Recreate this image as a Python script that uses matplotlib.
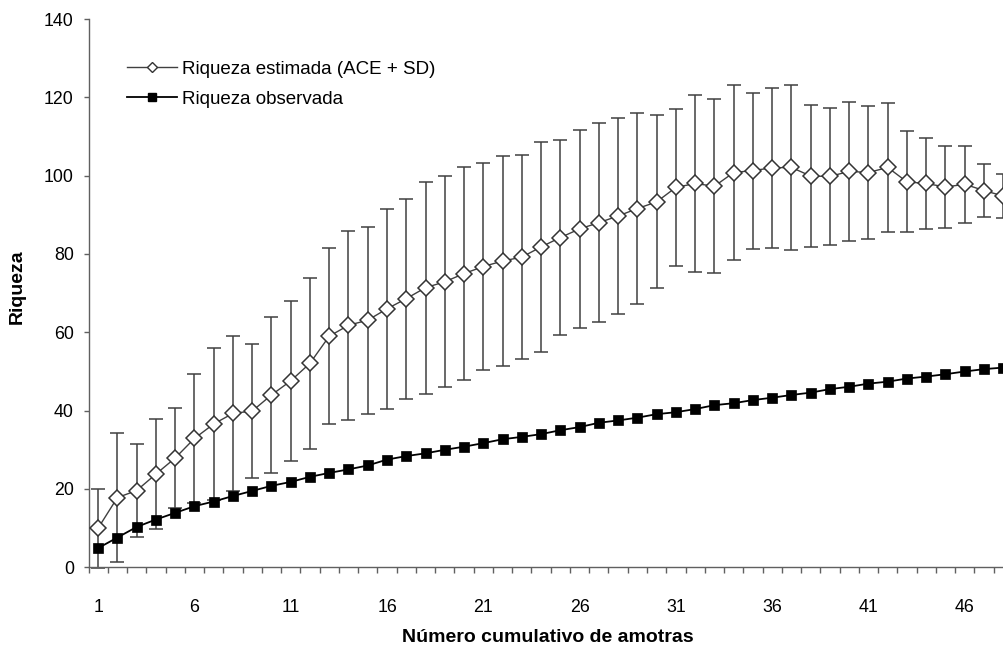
import matplotlib
matplotlib.use("Agg")
import matplotlib.pyplot as plt
from matplotlib.lines import Line2D
import numpy as np

plt.rcParams['font.family'] = ['Liberation Sans', 'DejaVu Sans']

samples = list(range(1, 49))
ace_mean = [10.0, 17.8, 19.6, 23.8, 27.9, 32.9, 36.6, 39.3, 39.9, 44.0, 47.6, 52.1,
            59.0, 61.8, 63.1, 66.0, 68.6, 71.4, 72.9, 75.0, 76.8, 78.2, 79.2, 81.8,
            84.2, 86.4, 88.0, 89.7, 91.6, 93.3, 97.0, 98.0, 97.3, 100.8, 101.3, 102.0,
            102.1, 99.9, 99.8, 101.1, 100.8, 102.1, 98.4, 98.0, 97.1, 97.8, 96.2, 94.8]
ace_sd = [10.1, 16.4, 11.9, 14.0, 12.8, 16.5, 19.5, 19.7, 17.1, 19.8, 20.4, 21.8,
          22.5, 24.1, 23.9, 25.5, 25.5, 27.1, 26.9, 27.1, 26.4, 26.9, 26.1, 26.8,
          24.8, 25.2, 25.4, 25.0, 24.4, 22.1, 20.1, 22.5, 22.2, 22.4, 19.9, 20.4,
          21.1, 18.1, 17.4, 17.7, 17.0, 16.5, 12.9, 11.5, 10.5, 9.8, 6.8, 5.5]
observed = [4.9, 7.6, 10.3, 12.2, 13.9, 15.6, 16.8, 18.2, 19.5, 20.8, 21.8, 23.1,
            24.1, 25.0, 26.0, 27.5, 28.4, 29.1, 30.0, 30.8, 31.7, 32.7, 33.3, 34.0,
            35.0, 35.8, 36.9, 37.5, 38.2, 39.1, 39.6, 40.4, 41.4, 41.9, 42.7, 43.3,
            44.0, 44.6, 45.5, 46.1, 46.9, 47.4, 48.2, 48.7, 49.3, 50.0, 50.6, 51.0]
xtick_pos = [1, 6, 11, 16, 21, 26, 31, 36, 41, 46]
xtick_labels = [str(v) for v in xtick_pos]
ytick_pos = [0, 20, 40, 60, 80, 100, 120, 140]
label_est = "Riqueza estimada (ACE + SD)"
label_obs = "Riqueza observada"
xlabel = "Número cumulativo de amotras"
ylabel = "Riqueza"

W, H = 1004, 646
fig = plt.figure(figsize=(W / 100, H / 100), dpi=100)
left_px, right_px, top_px, bot_px = 88.5, 1012.9, 19, 567.3
ax = fig.add_axes([left_px / W, (H - bot_px) / H, (right_px - left_px) / W, (bot_px - top_px) / H])

gray = '#404040'
ax.errorbar(samples, ace_mean, yerr=ace_sd, fmt='none', ecolor=gray, elinewidth=1.1,
            capsize=5, capthick=1.1, zorder=2, clip_on=False)
ax.plot(samples, ace_mean, color=gray, lw=1.0, marker='D', ms=8.4, mfc='white',
        mec='#333333', mew=1.1, zorder=3)
ax.plot(samples, observed, color='black', lw=1.3, marker='s', ms=6.8, mfc='black',
        mec='black', mew=0.5, zorder=4)

ax.set_xlim(0.5, 48.5)
ax.set_ylim(0, 140)
ax.set_xticks(xtick_pos)
ax.set_xticklabels(xtick_labels)
ax.set_xticks(np.arange(0.5, 49, 1.0), minor=True)
ax.set_yticks(ytick_pos)
ax.set_yticklabels([str(v) for v in ytick_pos])

axis_col = '#606060'
for s in ['top', 'right']:
    ax.spines[s].set_visible(False)
for s in ['left', 'bottom']:
    ax.spines[s].set_color(axis_col)
    ax.spines[s].set_linewidth(1.0)

ax.tick_params(axis='x', which='major', length=0, pad=23, labelsize=12.8, colors='black')
ax.tick_params(axis='x', which='minor', length=4, width=1.0, color=axis_col, direction='out')
ax.tick_params(axis='y', which='major', length=3.6, width=1.0, color=axis_col,
               direction='out', pad=7, labelsize=12.8, labelcolor='black')

fig.text(548 / W, (H - 637) / H, xlabel, ha='center', va='center', fontsize=14,
         fontweight='bold')
fig.text(17 / W, (H - 287) / H, ylabel, ha='center', va='center', rotation=90,
         fontsize=14, fontweight='bold')

h_est = Line2D([], [], color=gray, lw=1.0, marker='D', ms=5.2, mfc='white', mec='#333333', mew=1.0)
h_obs = Line2D([], [], color='black', lw=1.3, marker='s', ms=5.5, mfc='black', mec='black')
fs = 13.5
em = fs * 100 / 72
leg = ax.legend([h_est, h_obs], [label_est, label_obs], loc='upper left',
                bbox_to_anchor=(126.7 / W, 1 - 60.5 / H), bbox_transform=fig.transFigure,
                frameon=False, borderpad=0, borderaxespad=0, fontsize=fs,
                handlelength=50 / em, handletextpad=5 / em, labelspacing=0.7,
                handleheight=0.7)

fig.savefig('out.png', dpi=100)
